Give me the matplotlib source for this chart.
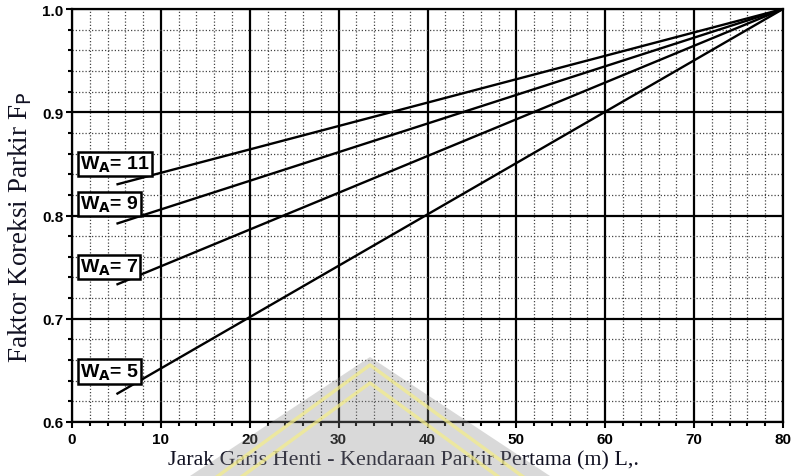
import numpy as np
import matplotlib.pyplot as plt
from matplotlib.patches import Polygon
from matplotlib.ticker import MultipleLocator

# every curve runs straight to (80, 1.0)
x_start = 5.0
x_end = 80.0
lane_widths = [11, 9, 7, 5]
fp_at_start = [0.830, 0.792, 0.733, 0.627]
fp_at_end = [1.0, 1.0, 1.0, 1.0]
label_y = [0.850, 0.811, 0.750, 0.649]

x_ticks = list(range(0, 81, 10))
y_ticks = [0.6, 0.7, 0.8, 0.9, 1.0]

W, H = 795, 477
fig = plt.figure(figsize=(W / 100, H / 100), dpi=100)
ax = fig.add_axes([72 / W, 1 - 423 / H, (783 - 72) / W, (423 - 10) / H])

ax.set_xlim(0, 80)
ax.set_ylim(0.6, 1.0)

ax.xaxis.set_major_locator(MultipleLocator(10))
ax.xaxis.set_minor_locator(MultipleLocator(2))
ax.yaxis.set_major_locator(MultipleLocator(0.1))
ax.yaxis.set_minor_locator(MultipleLocator(0.02))

ax.grid(which="minor", linestyle=(0, (1, 1.6)), color="#444444", linewidth=0.9)
ax.grid(which="major", linestyle="-", color="black", linewidth=1.6)
ax.set_axisbelow(True)

ax.tick_params(which="both", direction="out", length=4, width=1.5, color="black")
ax.tick_params(which="minor", length=3)
ax.set_xticks(x_ticks)
ax.set_yticks(y_ticks)
ax.set_xticklabels([str(v) for v in x_ticks], fontsize=11, fontweight="bold",
                   family="Liberation Sans")
ax.set_yticklabels([f"{v:.1f}" for v in y_ticks], fontsize=11, fontweight="bold",
                   family="Liberation Sans")
ax.tick_params(axis="x", pad=3)
ax.tick_params(axis="y", pad=2)
for s in ax.spines.values():
    s.set_linewidth(1.6)
    s.set_color("black")

for wa, y0, y1, ly in zip(lane_widths, fp_at_start, fp_at_end, label_y):
    ax.plot([x_start, x_end], [y0, y1], color="black", linewidth=1.7,
            solid_capstyle="butt", zorder=3)
    ax.text(0.9, ly, f"W$_\\mathbf{{A}}$= {wa}", fontsize=14, fontweight="bold",
            family="Liberation Sans", va="center", ha="left", zorder=4,
            bbox=dict(boxstyle="square,pad=0.1", facecolor="white",
                      edgecolor="black", linewidth=1.8))

ax.set_xlabel("Jarak Garis Henti - Kendaraan Parkir Pertama (m) L,.",
              fontsize=15.8, family="Liberation Serif", color="#111122")
ax.set_ylabel("Faktor Koreksi Parkir F$_\\mathrm{P}$", fontsize=19.5,
              family="Liberation Serif", color="#111122")
ax.xaxis.set_label_coords((404 - 72) / (783 - 72), (423 - 451) / 413)
ax.yaxis.set_label_coords((34 - 72) / (783 - 72), (423 - 227) / 413)

# faint watermark triangle at the bottom
def px(x, y):
    return (x / W, 1 - y / H)

tri = Polygon([px(190, 477), px(370, 358), px(550, 477)], closed=True,
              transform=fig.transFigure, facecolor="#8a8a8a", alpha=0.32,
              edgecolor="none", zorder=10)
fig.patches.append(tri)
for top, half in [(366, 160), (384, 140)]:
    xs = [370 - half, 370, 370 + half]
    ys = [top + half * 0.73, top, top + half * 0.73]
    pts = [px(a, b) for a, b in zip(xs, ys)]
    fig.lines.append(plt.Line2D([p[0] for p in pts], [p[1] for p in pts],
                                transform=fig.transFigure, color="#f3ec8c",
                                linewidth=2.5, alpha=0.75, zorder=11))

fig.savefig("out.png", dpi=100)
